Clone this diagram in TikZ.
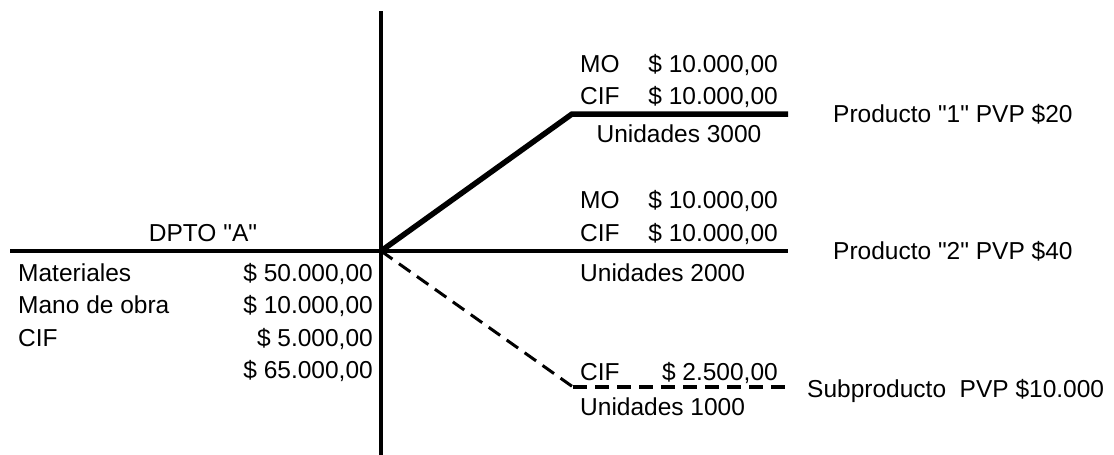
\documentclass[tikz,border=0pt]{standalone}
\usepackage{fontspec}
\setmainfont{Liberation Sans}[Ligatures=TeXOff]
\begin{document}
\begin{tikzpicture}[x=1pt,y=-1pt,
  lbl/.style={inner sep=0pt, font=\fontsize{24.5}{29}\selectfont},
  axisline/.style={line width=4.5pt},
  mainflow/.style={line width=5.5pt, line join=miter},
  subflow/.style={line width=3pt, dash pattern=on 14pt off 8pt}]
\useasboundingbox (0,0) rectangle (1114,455);
% coordinates
\coordinate (vtop) at (381,11);
\coordinate (vbot) at (381,455);
\coordinate (left) at (10,251);
\coordinate (O) at (381,251);
\coordinate (p2end) at (788,251);
\coordinate (p1a) at (572,114);
\coordinate (p1b) at (788,114);
\coordinate (s1) at (573,387);
\coordinate (s2) at (786,387);
% lines
\draw[axisline] (vtop) -- (vbot);
\draw[axisline] (left) -- (p2end);
\draw[mainflow] (O) -- (p1a) -- (p1b);
\draw[subflow] (O) -- (s1);
\draw[subflow, line width=3.5pt] (s1) -- (s2);
% left block
\node[lbl, anchor=base] (dpto) at (203,241) {DPTO "A"};
\node[lbl, anchor=base west] (mat) at (18,281) {Materiales};
\node[lbl, anchor=base west] (mob) at (18,313) {Mano de obra};
\node[lbl, anchor=base west] (cif) at (18,346) {CIF};
\node[lbl, anchor=base east] (matv) at (373,281) {\$ 50.000,00};
\node[lbl, anchor=base east] (mobv) at (373,313) {\$ 10.000,00};
\node[lbl, anchor=base east] (cifv) at (373,346) {\$ 5.000,00};
\node[lbl, anchor=base east] (tot) at (373,378) {\$ 65.000,00};
% product 1
\node[lbl, anchor=base west] (mo1) at (580,72) {MO};
\node[lbl, anchor=base east] (mo1v) at (778,72) {\$ 10.000,00};
\node[lbl, anchor=base west] (cif1) at (580,104) {CIF};
\node[lbl, anchor=base east] (cif1v) at (778,104) {\$ 10.000,00};
\node[lbl, anchor=base] (u1) at (679,142) {Unidades 3000};
\node[lbl, anchor=base west] (pr1) at (833,122) {Producto "1" PVP \$20};
% product 2
\node[lbl, anchor=base west] (mo2) at (580,208) {MO};
\node[lbl, anchor=base east] (mo2v) at (778,208) {\$ 10.000,00};
\node[lbl, anchor=base west] (cif2) at (580,241) {CIF};
\node[lbl, anchor=base east] (cif2v) at (778,241) {\$ 10.000,00};
\node[lbl, anchor=base west] (u2) at (580,281) {Unidades 2000};
\node[lbl, anchor=base west] (pr2) at (833,259) {Producto "2" PVP \$40};
% subproduct
\node[lbl, anchor=base west] (cif3) at (580,380) {CIF};
\node[lbl, anchor=base east] (cif3v) at (778,380) {\$ 2.500,00};
\node[lbl, anchor=base west] (u3) at (580,415) {Unidades 1000};
\node[lbl, anchor=base west] (sub) at (807,397) {Subproducto\ \ PVP \$10.000};
\end{tikzpicture}
\end{document}
